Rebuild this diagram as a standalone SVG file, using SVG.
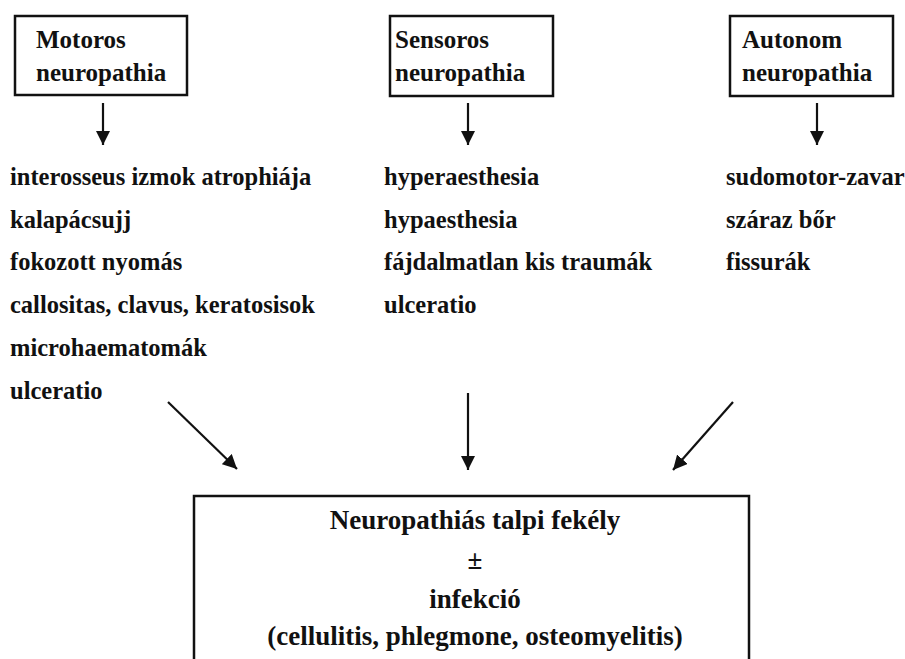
<svg xmlns="http://www.w3.org/2000/svg" width="905" height="659" viewBox="0 0 905 659">
<defs>
<marker id="ah" viewBox="0 0 10 10" refX="10" refY="5" markerWidth="6.5" markerHeight="6.5" markerUnits="strokeWidth" orient="auto">
<path d="M0,0 L10,5 L0,10 z" fill="#111"/>
</marker>
</defs>
<style>
.h{font-size:25px}
.l{font-size:24.5px}
.b{font-size:27px;text-anchor:middle}
.box{fill:#fff;stroke:#111;stroke-width:2.5}
.c line{stroke:#111;stroke-width:2.2;marker-end:url(#ah)}
</style>
<rect width="905" height="659" fill="#fff"/>
<g style="font-family:'Liberation Serif',serif;font-weight:bold" fill="#111">
<g id="motoros">
<rect class="box" x="15" y="16" width="172" height="79"/>
<text class="h" x="36" y="48">Motoros</text>
<text class="h" x="36" y="81">neuropathia</text>
</g>
<g id="sensoros">
<rect class="box" x="390" y="16" width="163" height="80"/>
<text class="h" x="395" y="48">Sensoros</text>
<text class="h" x="395" y="81">neuropathia</text>
</g>
<g id="autonom">
<rect class="box" x="730" y="16" width="163" height="80"/>
<text class="h" x="742" y="48">Autonom</text>
<text class="h" x="742" y="81">neuropathia</text>
</g>
<g id="motoros-list">
<text class="l" x="10" y="185">interosseus izmok atrophiája</text>
<text class="l" x="10" y="228">kalapácsujj</text>
<text class="l" x="10" y="270">fokozott nyomás</text>
<text class="l" x="10" y="313">callositas, clavus, keratosisok</text>
<text class="l" x="10" y="356">microhaematomák</text>
<text class="l" x="10" y="399">ulceratio</text>
</g>
<g id="sensoros-list">
<text class="l" x="384" y="185">hyperaesthesia</text>
<text class="l" x="384" y="228">hypaesthesia</text>
<text class="l" x="384" y="270">fájdalmatlan kis traumák</text>
<text class="l" x="384" y="313">ulceratio</text>
</g>
<g id="autonom-list">
<text class="l" x="726" y="185">sudomotor-zavar</text>
<text class="l" x="726" y="228">száraz bőr</text>
<text class="l" x="726" y="270">fissurák</text>
</g>
<g id="fekely">
<rect class="box" x="194" y="496" width="555" height="175"/>
<text class="b" x="475" y="529">Neuropathiás talpi fekély</text>
<text class="b" x="475" y="569">±</text>
<text class="b" x="475" y="608">infekció</text>
<text class="b" x="475" y="645">(cellulitis, phlegmone, osteomyelitis)</text>
</g>
</g>
<g id="connectors" class="c">
<line x1="103" y1="103" x2="103" y2="145"/>
<line x1="468" y1="103" x2="468" y2="145"/>
<line x1="817" y1="103" x2="817" y2="145"/>
<line x1="168" y1="402" x2="237" y2="469"/>
<line x1="468" y1="393" x2="468" y2="470"/>
<line x1="733" y1="402" x2="673" y2="470"/>
</g>
</svg>
